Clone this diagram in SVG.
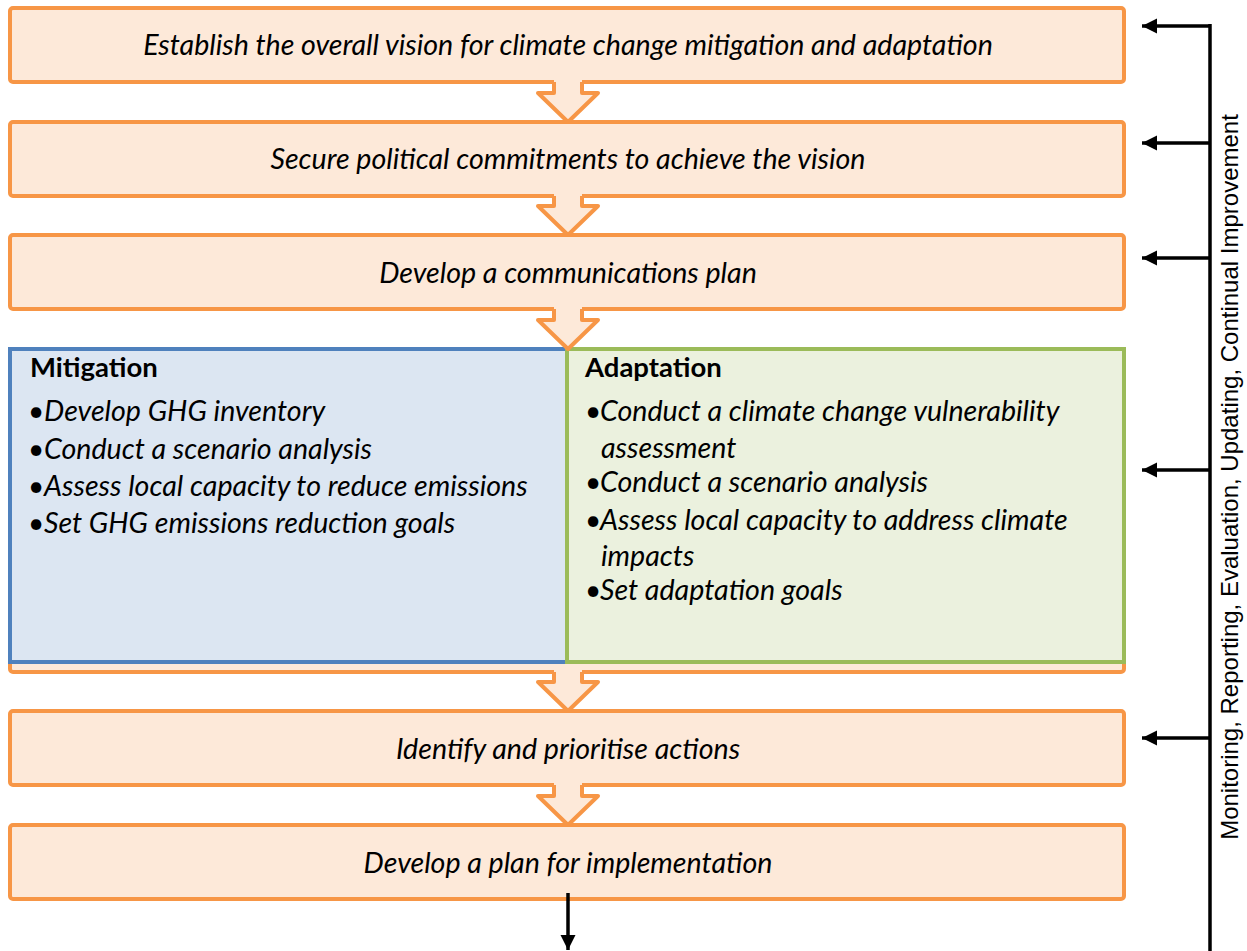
<svg xmlns="http://www.w3.org/2000/svg" width="1247" height="951" viewBox="0 0 1247 951">
<style>
.box{fill:#FDE9D9;stroke:#F79646;stroke-width:4}
.mit{fill:#DCE6F2;stroke:#4F81BD;stroke-width:4}
.ada{fill:#EBF1DE;stroke:#9BBB59;stroke-width:4}
.afill{fill:#FDE9D9;stroke:none}
.aline{fill:none;stroke:#F79646;stroke-width:4;stroke-linejoin:round}
.t{font-family:Lato,"Open Sans",sans-serif;font-style:italic;font-size:28.6px;fill:#000;text-anchor:middle}
.h{font-family:Lato,"Open Sans",sans-serif;font-weight:bold;font-size:27.5px;fill:#000}
.b{font-family:Lato,"Open Sans",sans-serif;font-size:28px;fill:#000}
.i{font-family:Lato,"Open Sans",sans-serif;font-style:italic;font-size:28.6px;fill:#000}
.side{font-family:"Liberation Sans",Arial,sans-serif;font-size:24px;fill:#000;text-anchor:middle}
.con{fill:none;stroke:#000;stroke-width:3.5}
</style>
<defs>
<marker id="ah" markerWidth="16" markerHeight="16" refX="15" refY="8" orient="auto" markerUnits="userSpaceOnUse">
<path d="M0,0.5 L15,8 L0,15.5 Z" fill="#000"/>
</marker>
</defs>

<g id="n1"><rect class="box" x="10" y="8" width="1114" height="74" rx="3"/>
<text class="t" x="568" y="55">Establish the overall vision for climate change mitigation and adaptation</text></g>
<g id="n2"><rect class="box" x="10" y="122" width="1114" height="74" rx="3"/>
<text class="t" x="568" y="169">Secure political commitments to achieve the vision</text></g>
<g id="n3"><rect class="box" x="10" y="235" width="1114" height="74" rx="3"/>
<text class="t" x="568" y="283">Develop a communications plan</text></g>
<g id="n4"><rect class="box" x="10" y="349" width="1114" height="323" rx="3"/>
<rect class="mit" x="10" y="349" width="557" height="313"/>
<rect class="ada" x="567" y="349" width="557" height="313"/>
<text class="h" x="30" y="377">Mitigation</text>
<text class="b" x="28" y="421">•</text><text class="i" x="44" y="421">Develop GHG inventory</text>
<text class="b" x="28" y="459">•</text><text class="i" x="44" y="459">Conduct a scenario analysis</text>
<text class="b" x="28" y="496">•</text><text class="i" x="44" y="496">Assess local capacity to reduce emissions</text>
<text class="b" x="28" y="533">•</text><text class="i" x="44" y="533">Set GHG emissions reduction goals</text>
<text class="h" x="585" y="377">Adaptation</text>
<text class="b" x="585" y="421">•</text><text class="i" x="600" y="421">Conduct a climate change vulnerability</text>
<text class="i" x="601" y="458">assessment</text>
<text class="b" x="585" y="492">•</text><text class="i" x="600" y="492">Conduct a scenario analysis</text>
<text class="b" x="585" y="530">•</text><text class="i" x="600" y="530">Assess local capacity to address climate</text>
<text class="i" x="601" y="566">impacts</text>
<text class="b" x="585" y="600">•</text><text class="i" x="600" y="600">Set adaptation goals</text></g>
<g id="n5"><rect class="box" x="10" y="711" width="1114" height="74" rx="3"/>
<text class="t" x="568" y="759">Identify and prioritise actions</text></g>
<g id="n6"><rect class="box" x="10" y="825" width="1114" height="74" rx="3"/>
<text class="t" x="568" y="873">Develop a plan for implementation</text></g>

<g id="flow-arrows">
<polygon class="afill" points="554,78 582,78 582,93 598,93 568,122 538,93 554,93"/>
<path class="aline" d="M554,82 V93 H538 L568,122 L598,93 H582 V82"/>
<polygon class="afill" points="554,192 582,192 582,206 598,206 568,235 538,206 554,206"/>
<path class="aline" d="M554,196 V206 H538 L568,235 L598,206 H582 V196"/>
<polygon class="afill" points="554,305 582,305 582,320 598,320 568,349 538,320 554,320"/>
<path class="aline" d="M554,309 V320 H538 L568,349 L598,320 H582 V309"/>
<polygon class="afill" points="554,668 582,668 582,682 598,682 568,711 538,682 554,682"/>
<path class="aline" d="M554,672 V682 H538 L568,711 L598,682 H582 V672"/>
<polygon class="afill" points="554,781 582,781 582,796 598,796 568,825 538,796 554,796"/>
<path class="aline" d="M554,785 V796 H538 L568,825 L598,796 H582 V785"/>
</g>

<g id="connectors">
<line class="con" x1="1210" y1="24" x2="1210" y2="951"/>
<line class="con" x1="1211" y1="26" x2="1142" y2="26" marker-end="url(#ah)"/>
<line class="con" x1="1211" y1="143" x2="1142" y2="143" marker-end="url(#ah)"/>
<line class="con" x1="1211" y1="258" x2="1142" y2="258" marker-end="url(#ah)"/>
<line class="con" x1="1211" y1="470" x2="1142" y2="470" marker-end="url(#ah)"/>
<line class="con" x1="1211" y1="738" x2="1142" y2="738" marker-end="url(#ah)"/>
<line class="con" x1="568" y1="893" x2="568" y2="950" marker-end="url(#ah)"/>
</g>

<g id="side-label">
<text class="side" transform="translate(1238,477) rotate(-90)">Monitoring, Reporting, Evaluation, Updating, Continual Improvement</text>
</g>
</svg>
